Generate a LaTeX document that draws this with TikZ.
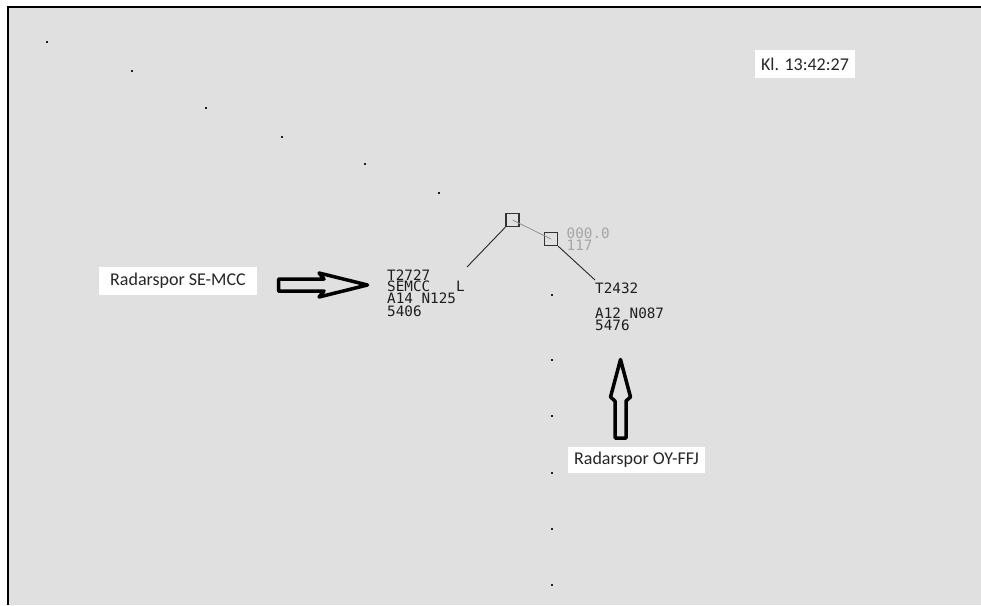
\documentclass[tikz,border=0pt]{standalone}
\usepackage{fontspec}
\newfontfamily\labelfont{Carlito}
\newfontfamily\radarfont{DejaVu Sans Mono}
\definecolor{radarbg}{RGB}{224,224,224}
\definecolor{radarink}{RGB}{30,30,30}
\definecolor{radargrey}{RGB}{165,165,165}

\begin{document}
\begin{tikzpicture}[
    x=1pt, y=-1pt,
    radartext/.style={anchor=base west, inner sep=0pt, text=radarink,
                      text height=10pt, text depth=0.3pt,
                      font=\radarfont\fontsize{14.3}{14}\selectfont},
    oldtext/.style={radartext, text=radargrey},
    callout/.style={fill=white, inner sep=0pt, text=black!85,
                    font=\labelfont\fontsize{18}{20}\selectfont},
    plot/.style={draw=black!80, line width=1.3pt, minimum size=13pt, inner sep=0pt},
    leader/.style={draw=black!85, line width=0.9pt},
    history/.style={draw=gray!85, line width=0.8pt},
    blockarrow/.style={draw=black, line width=3.5pt, line join=round}
]
    \useasboundingbox (0,0) rectangle (981,605);
    \fill[white] (0,0) rectangle (981,605);
    \fill[radarbg] (9,8) rectangle (981,605);
    \draw[black, line width=2pt] (8,605) -- (8,7) -- (981,7);

    % route dots
    \foreach \x/\y in {47/42, 132/71, 206/108, 282/137, 365/164, 439/193,
                       552/295, 552/360, 552/416, 552/473, 552/529, 552/585}
        \fill[radarink] (\x-1.2,\y-1.2) rectangle (\x+1.2,\y+1.2);

    % plots
    \node[plot] (sq1) at (512.5,220) {};
    \node[plot] (sq2) at (551,239) {};
    \draw[history] (sq1.center) -- (sq2.center);

    \coordinate (lead1) at (467,267);
    \coordinate (lead2) at (595,280);
    \draw[leader] (sq1.south west) -- (lead1);
    \draw[leader] (sq2.south east) -- (lead2);

    % track SE-MCC
    \node[radartext] (t1a) at (387,280) {T2727};
    \node[radartext] (t1b) at (387,291) {SEMCC~~~L};
    \node[radartext] (t1c) at (387,303.5) {A14~N125};
    \node[radartext] (t1d) at (387,316) {5406};

    % track OY-FFJ
    \node[oldtext] (v2a) at (566.5,238) {000.0};
    \node[oldtext] (v2b) at (566.5,250.5) {117};
    \node[radartext] (t2a) at (595,293.5) {T2432};
    \node[radartext] (t2b) at (595,318.5) {A12~N087};
    \node[radartext] (t2c) at (595,330.5) {5476};

    % callouts
    \node[callout, minimum width=158pt, minimum height=28pt] (labSE) at (178,281)
        {Radarspor SE-MCC};
    \node[callout, minimum width=137pt, minimum height=26pt] (labOY) at (636.5,460)
        {Radarspor OY-FFJ};
    \node[callout, minimum width=100pt, minimum height=28pt] (clock) at (805,64)
        {Kl. 13:42:27};

    \draw[blockarrow] (278.5,279) -- (324,279) -- (319,273) -- (367.5,285)
        -- (319,297) -- (324,291) -- (278.5,291) -- cycle;
    \draw[blockarrow] (620.5,359.5) -- (630.5,397) -- (626,401) -- (626,438)
        -- (615,438) -- (615,401) -- (610.5,397) -- cycle;

\end{tikzpicture}
\end{document}
